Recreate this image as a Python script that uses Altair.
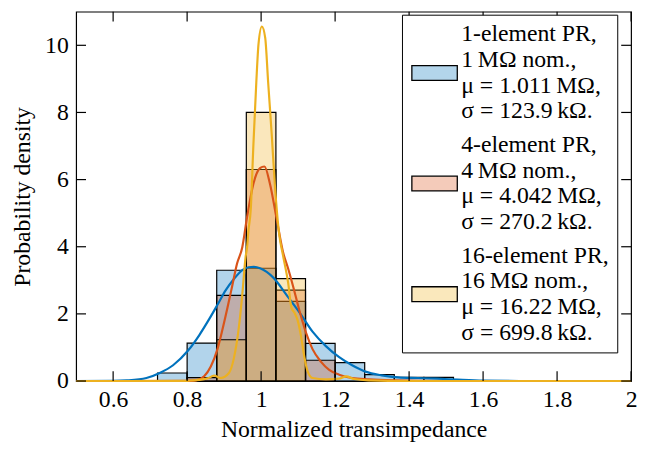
import altair as alt
import pandas as pd

# ---- data -------------------------------------------------------------
series = [
    "1-element PR,|1\u2009M\u03a9 nom.,|\u03bc = 1.011\u2009M\u03a9,|\u03c3 = 123.9\u2009k\u03a9.",
    "4-element PR,|4\u2009M\u03a9 nom.,|\u03bc = 4.042\u2009M\u03a9,|\u03c3 = 270.2\u2009k\u03a9.",
    "16-element PR,|16\u2009M\u03a9 nom.,|\u03bc = 16.22\u2009M\u03a9,|\u03c3 = 699.8\u2009k\u03a9.",
]
line_colors = ["#0072BD", "#D95319", "#EDB120"]
patch_colors = ["#b3d5eb", "#f4cbba", "#fae8bc"]

bin_edges = [0.72, 0.80, 0.88, 0.96, 1.04, 1.12, 1.20, 1.28, 1.36, 1.44, 1.52]
dens_1 = [0.24, 1.13, 3.30, 3.36, 2.37, 1.12, 0.55, 0.19, 0.11, 0.11]
dens_4 = [0.0, 0.10, 2.55, 6.30, 2.71, 0.62, 0.0, 0.0, 0.0, 0.0]
dens_16 = [0.0, 0.0, 1.23, 8.00, 3.05, 0.0, 0.0, 0.0, 0.0, 0.0]

kde_x_1 = [0.50, 0.60, 0.637, 0.69, 0.726, 0.762, 0.802, 0.833, 0.86, 0.882, 0.904,
           0.926, 0.949, 0.966, 0.98, 0.997, 1.015, 1.033, 1.069, 1.104, 1.139, 1.175,
           1.211, 1.246, 1.282, 1.326, 1.371, 1.424, 1.477, 1.531, 1.60, 1.70, 2.00]
kde_y_1 = [0.0, 0.005, 0.02, 0.09, 0.24, 0.47, 0.90, 1.37, 1.85, 2.27, 2.70,
           3.03, 3.30, 3.39, 3.40, 3.36, 3.25, 3.08, 2.56, 2.04, 1.47, 1.04,
           0.71, 0.47, 0.28, 0.17, 0.11, 0.09, 0.07, 0.04, 0.01, 0.0, 0.0]

kde_x_4 = [0.50, 0.80, 0.824, 0.846, 0.864, 0.882, 0.895, 0.909, 0.922, 0.935, 0.949,
           0.962, 0.979, 0.997, 1.009, 1.024, 1.042, 1.059, 1.073, 1.086, 1.104, 1.122,
           1.139, 1.162, 1.184, 1.211, 1.246, 1.291, 1.36, 1.50, 2.00]
kde_y_4 = [0.0, 0.005, 0.02, 0.14, 0.43, 0.95, 1.51, 2.18, 2.84, 3.50, 3.98,
           4.88, 5.87, 6.34, 6.39, 5.87, 4.83, 3.85, 3.35, 2.84, 2.08, 1.42,
           0.95, 0.57, 0.33, 0.19, 0.09, 0.05, 0.02, 0.0, 0.0]

kde_x_16 = [0.50, 0.80, 0.815, 0.855, 0.873, 0.891, 0.913, 0.926, 0.940, 0.949, 0.958,
            0.962, 0.966, 0.972, 0.979, 0.987, 0.993, 1.002, 1.011, 1.019, 1.029, 1.037,
            1.049, 1.059, 1.073, 1.082, 1.090, 1.099, 1.108, 1.117, 1.126, 1.139, 1.175,
            1.211, 1.230, 1.251, 1.29, 1.40, 2.00]
kde_y_16 = [0.0, 0.005, 0.02, 0.08, 0.16, 0.09, 0.24, 0.66, 1.61, 2.56, 3.69,
            3.98, 4.50, 5.11, 7.00, 8.90, 10.04, 10.56, 10.23, 8.90, 7.29, 5.87,
            4.36, 3.75, 2.93, 2.18, 2.04, 1.80, 1.33, 0.71, 0.28, 0.09, 0.05,
            0.07, 0.14, 0.06, 0.02, 0.0, 0.0]

x_ticks = [0.6, 0.8, 1.0, 1.2, 1.4, 1.6, 1.8, 2.0]
y_ticks = [0, 2, 4, 6, 8, 10]

# ---- tables -----------------------------------------------------------
rows = []
for name, dens in zip(series, [dens_1, dens_4, dens_16]):
    for j, v in enumerate(dens):
        if v > 0:
            rows.append({"series": name, "x0": bin_edges[j], "x1": bin_edges[j + 1], "density": v})
bars_df = pd.DataFrame(rows)

kde_dfs = [pd.DataFrame({"x": xs, "y": ys})
           for xs, ys in [(kde_x_1, kde_y_1), (kde_x_4, kde_y_4), (kde_x_16, kde_y_16)]]

W, H = 562, 374
FONT = "Liberation Serif"

x_scale = alt.Scale(domain=[0.5, 2.0], nice=False, zero=False)
y_scale = alt.Scale(domain=[0, 11], nice=False)

x_axis = alt.Axis(title="Normalized transimpedance", values=x_ticks, format="~g",
                  ticks=False, domain=False, grid=False, labelPadding=7,
                  titlePadding=6, labelFlush=False)
y_axis = alt.Axis(title="Probability density", values=y_ticks, ticks=False,
                  domain=False, grid=False, labelPadding=8, titlePadding=10)

legend = alt.Legend(
    title=None, orient="none", legendX=330, legendY=3,
    labelExpr="split(datum.label, '|')", labelFont=FONT, labelFontSize=24,
    labelColor="black", labelLimit=400, labelOffset=28,
    symbolType="M-1,3.15L3.6,3.15L3.6,4.65L-1,4.65Z", symbolSize=400,
    symbolStrokeColor="black", symbolStrokeWidth=1.3, symbolOpacity=1,
    padding=8, rowPadding=10, strokeColor="black", fillColor="white",
    cornerRadius=0,
)

bars = alt.Chart(bars_df).mark_rect(
    fillOpacity=0.3, stroke="black", strokeWidth=1.2
).encode(
    x=alt.X("x0:Q", scale=x_scale, axis=x_axis),
    x2="x1:Q",
    y=alt.Y("density:Q", scale=y_scale, axis=y_axis),
    y2=alt.datum(0),
    fill=alt.Fill("series:N", scale=alt.Scale(domain=series, range=line_colors),
                  legend=None),
)

# invisible layer that only carries the legend (opaque pale patches)
legend_layer = alt.Chart(bars_df).mark_rect(opacity=0).encode(
    x=alt.X("x0:Q", scale=x_scale),
    x2="x1:Q",
    y=alt.Y("density:Q", scale=y_scale),
    y2=alt.datum(0),
    fill=alt.Fill("series:N", scale=alt.Scale(domain=series, range=patch_colors),
                  legend=legend),
)

lines = [
    alt.Chart(df).mark_line(color=c, strokeWidth=2.2, interpolate="monotone").encode(
        x=alt.X("x:Q", scale=x_scale), y=alt.Y("y:Q", scale=y_scale))
    for df, c in zip(kde_dfs, line_colors)
]

xt = pd.DataFrame({"t": x_ticks})
yt = pd.DataFrame({"t": y_ticks})
tick_style = dict(color="black", strokeWidth=1.2)
ticks = [
    alt.Chart(xt).mark_rule(**tick_style).encode(
        x=alt.X("t:Q", scale=x_scale), y=alt.value(0), y2=alt.value(10)),
    alt.Chart(xt).mark_rule(**tick_style).encode(
        x=alt.X("t:Q", scale=x_scale), y=alt.value(H - 10), y2=alt.value(H)),
    alt.Chart(yt).mark_rule(**tick_style).encode(
        y=alt.Y("t:Q", scale=y_scale), x=alt.value(0), x2=alt.value(10)),
    alt.Chart(yt).mark_rule(**tick_style).encode(
        y=alt.Y("t:Q", scale=y_scale), x=alt.value(W - 10), x2=alt.value(W)),
]

chart = alt.layer(bars, legend_layer, *lines, *ticks).resolve_scale(
    fill="independent"
).properties(
    width=W, height=H,
    background="white",
    autosize=alt.AutoSizeParams(type="none"),
    padding={"left": 69, "top": 1, "right": 6, "bottom": 62},
).configure_view(
    stroke="black", strokeWidth=1.2
).configure_axis(
    labelFont=FONT, labelFontSize=24, labelColor="black",
    titleFont=FONT, titleFontSize=24, titleColor="black", titleFontWeight="normal",
)

chart.save("out.html", embed_options={"renderer": "svg", "actions": False})
